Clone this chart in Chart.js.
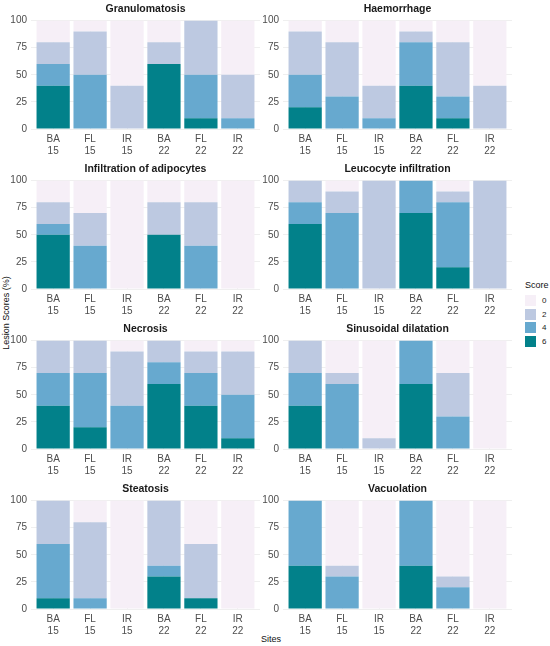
<!DOCTYPE html>
<html>
<head>
<meta charset="utf-8">
<script src="https://cdn.jsdelivr.net/npm/chart.js@4/dist/chart.umd.min.js"></script>
<style>
  body { margin: 0; background: #fff; font-family: "Liberation Sans", Arial, sans-serif; }
  #wrap { position: relative; width: 550px; height: 646px; overflow: hidden; }
  .panel { position: absolute; height: 160px; }
  .axis-title { position: absolute; font-size: 9px; color: #111; white-space: nowrap; }
  #ylab { left: 6px; top: 313px; transform: translate(-50%, -50%) rotate(-90deg); }
  #xlab { left: 271px; top: 639px; transform: translate(-50%, -50%); }
  #legend { position: absolute; left: 525px; top: 280px; font-size: 8px; color: #222; }
  #legend .ltitle { font-size: 9px; color: #111; margin-bottom: 4px; }
  #legend .item { display: flex; align-items: center; height: 13.5px; }
  #legend .sw { width: 11px; height: 11px; margin-right: 6px; }
</style>
</head>
<body>
<div id="wrap">
  <div id="ylab" class="axis-title">Lesion Scores (%)</div>
  <div id="xlab" class="axis-title">Sites</div>
  <div id="legend"><div class="ltitle">Score</div></div>
</div>
<script>
// 站点（x轴分类）
const sites = [['BA', '15'], ['FL', '15'], ['IR', '15'], ['BA', '22'], ['FL', '22'], ['IR', '22']];
// 评分等级，自下而上堆叠
const scores = ['6', '4', '2', '0'];
const scoreColours = ['#02818a', '#67a9cf', '#bdc9e1', '#f6eff7'];
const yTicks = [0, 25, 50, 75, 100];

// 每个病变：[score 6, score 4, score 2, score 0]
const granulomatosis = [
  [40, 0, 0, 60, 10, 0],
  [20, 50, 0, 0, 40, 10],
  [20, 40, 40, 20, 50, 40],
  [20, 10, 60, 20, 0, 50]
];
const haemorrhage = [
  [20, 0, 0, 40, 10, 0],
  [30, 30, 10, 40, 20, 0],
  [40, 50, 30, 10, 50, 40],
  [10, 20, 60, 10, 20, 60]
];
const adipocytes = [
  [50, 0, 0, 50, 0, 0],
  [10, 40, 0, 0, 40, 0],
  [20, 30, 0, 30, 40, 0],
  [20, 30, 100, 20, 20, 100]
];
const leucocyte = [
  [60, 0, 0, 70, 20, 0],
  [20, 70, 0, 30, 60, 0],
  [20, 20, 100, 0, 10, 100],
  [0, 10, 0, 0, 10, 0]
];
const necrosis = [
  [40, 20, 0, 60, 40, 10],
  [30, 50, 40, 20, 30, 40],
  [30, 30, 50, 20, 20, 40],
  [0, 0, 10, 0, 10, 10]
];
const sinusoidal = [
  [40, 0, 0, 60, 0, 0],
  [30, 60, 0, 40, 30, 0],
  [30, 10, 10, 0, 40, 0],
  [0, 30, 90, 0, 30, 100]
];
const steatosis = [
  [10, 0, 0, 30, 10, 0],
  [50, 10, 0, 10, 0, 0],
  [40, 70, 0, 60, 50, 0],
  [0, 20, 100, 0, 40, 100]
];
const vacuolation = [
  [40, 0, 0, 40, 0, 0],
  [60, 30, 0, 60, 20, 0],
  [0, 10, 0, 0, 10, 0],
  [0, 60, 100, 0, 70, 100]
];

const panelTitles = ['Granulomatosis', 'Haemorrhage', 'Infiltration of adipocytes', 'Leucocyte infiltration',
  'Necrosis', 'Sinusoidal dilatation', 'Steatosis', 'Vacuolation'];
const panelData = [granulomatosis, haemorrhage, adipocytes, leucocyte, necrosis, sinusoidal, steatosis, vacuolation];

const wrap = document.getElementById('wrap');

// 图例
const legend = document.getElementById('legend');
[3, 2, 1, 0].forEach(k => {
  legend.innerHTML += `<div class="item"><span class="sw" style="background:${scoreColours[k]}"></span>${scores[k]}</div>`;
});

// 绘制单个分面
function makePanel(i) {
  const col = i % 2;
  const row = Math.floor(i / 2);
  const box = document.createElement('div');
  box.className = 'panel';
  box.style.left = (col ? 255 : 0) + 'px';
  box.style.top = (row * 160) + 'px';
  box.style.width = (col ? 257 : 260) + 'px';
  const canvas = document.createElement('canvas');
  box.appendChild(canvas);
  wrap.appendChild(box);

  const datasets = panelData[i].map((vals, k) => ({
    label: scores[k],
    data: vals.map((v, j) => ({ x: j + 1, y: v })),
    backgroundColor: scoreColours[k],
    borderWidth: 0,
    barPercentage: 0.9,
    categoryPercentage: 1
  }));

  new Chart(canvas, {
    type: 'bar',
    data: { datasets: datasets },
    options: {
      responsive: true,
      maintainAspectRatio: false,
      animation: false,
      layout: { padding: 0 },
      plugins: {
        legend: { display: false },
        tooltip: { enabled: false },
        title: {
          display: true,
          text: panelTitles[i],
          fullSize: false,
          color: '#1a1a1a',
          font: { family: '"Liberation Sans", Arial, sans-serif', size: 10.5, weight: 'bold' },
          padding: { top: 3, bottom: 5 }
        }
      },
      scales: {
        x: {
          type: 'linear',
          stacked: true,
          offset: false,
          min: 0.4,
          max: 6.6,
          afterBuildTicks: (scale) => {
            scale.ticks = sites.map((s, j) => ({ value: j + 1 }));
          },
          afterFit: (scale) => { scale.height = 31; },
          border: { display: false },
          grid: { color: '#ebebeb', lineWidth: 0.8, drawTicks: false, offset: false },
          ticks: {
            color: '#4d4d4d',
            padding: 4,
            maxRotation: 0,
            autoSkip: false,
            font: { family: '"Liberation Sans", Arial, sans-serif', size: 10, lineHeight: 1.2 },
            callback: (v) => sites[v - 1] || ''
          }
        },
        y: {
          stacked: true,
          min: 0,
          max: 100,
          afterFit: (scale) => { scale.width = col ? 28 : 31; },
          border: { display: false },
          grid: {
            drawTicks: false,
            color: (ctx) => (ctx.tick && yTicks.includes(ctx.tick.value)) ? '#ebebeb' : '#f3f3f3',
            lineWidth: (ctx) => (ctx.tick && yTicks.includes(ctx.tick.value)) ? 0.8 : 0.5
          },
          ticks: {
            stepSize: 12.5,
            color: '#4d4d4d',
            padding: 4,
            font: { family: '"Liberation Sans", Arial, sans-serif', size: 10 },
            callback: (v) => yTicks.includes(v) ? v : ''
          }
        }
      }
    }
  });
}

panelTitles.forEach((t, i) => makePanel(i));
</script>
</body>
</html>
